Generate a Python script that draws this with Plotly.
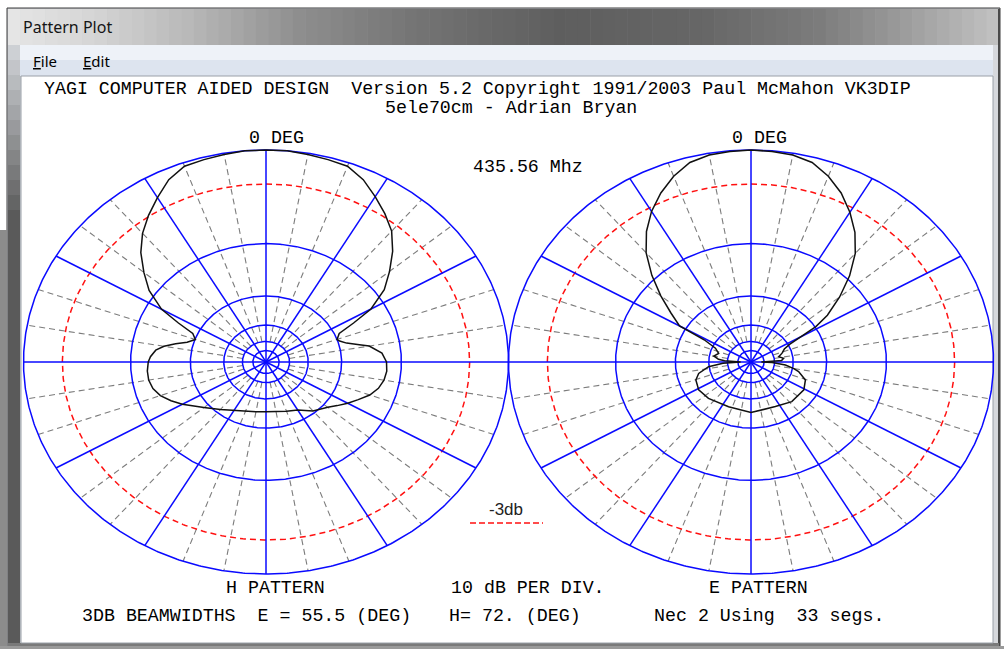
import numpy as np
import plotly.graph_objects as go

W, H = 1004, 649

# ---------------- data ----------------
# H-plane pattern (left plot): azimuth in degrees (clockwise from 0 DEG), relative gain in dB
h_angle = [0, 5, 10, 15, 20, 25, 30, 35, 40, 45, 50, 55, 60, 63, 66, 70, 72, 75, 78, 80, 85, 90,
           95, 100, 105, 110, 115, 120, 125, 130, 140, 150, 160, 170, 180,
           190, 200, 210, 220, 230, 235, 240, 245, 250, 255, 260, 265, 270, 273, 277, 280, 283,
           286, 290, 294, 297, 300, 305, 310, 315, 320, 325, 330, 335, 340, 345, 350, 355]
h_db = [0.0, 0.0, -0.1, -0.2, -0.3, -0.9, -1.8, -2.7, -3.7, -5.2, -7.0, -8.9, -11.9, -15.5, -19.0, -20.0, -19.6, -18.3, -16.0, -14.4, -12.6, -12.0,
        -11.9, -12.1, -12.6, -13.5, -14.9, -16.2, -17.6, -18.9, -20.6, -23.0, -24.0, -24.6, -24.9,
        -24.6, -24.0, -23.0, -21.1, -18.8, -17.5, -15.8, -14.4, -13.2, -12.5, -12.2, -12.2, -12.4, -12.7, -13.4, -14.6, -16.5,
        -18.6, -20.1, -19.0, -15.5, -12.0, -9.1, -7.2, -5.4, -4.0, -2.9, -1.9, -0.9, -0.3, -0.2, -0.1, 0.0]

# E-plane pattern (right plot)
e_angle = [0, 5, 10, 15, 20, 25, 30, 35, 40, 45, 50, 55, 58, 60.5, 62.5, 66, 72, 77.5, 82.7, 87, 90,
           91.5, 95.7, 100, 103, 110.7, 121, 138, 154.5, 180, 203.7, 225.6, 238.6, 249.5, 256,
           262.8, 267, 270, 273, 275.5, 280.5, 287, 294, 298.5, 300, 305, 310, 315, 320, 325,
           330, 335, 340, 345, 350, 355]
e_db = [0.0, -0.05, -0.15, -0.45, -1.2, -2.2, -3.5, -5.0, -6.9, -9.5, -12.7, -16.4, -19.8, -25.5, -29.5, -32.5, -34.4, -36.8, -34.3, -35.5, -54.0,
        -41.9, -33.4, -29.5, -27.5, -24.5, -23.5, -23.7, -25.0, -24.6, -25.2, -24.1, -23.6, -24.3, -25.8,
        -29.8, -37.0, -54.0, -38.0, -34.4, -31.9, -33.8, -31.4, -26.0, -18.5, -15.6, -12.4, -9.4, -6.8, -4.9,
        -3.4, -2.2, -1.2, -0.45, -0.15, -0.05]

ring_db = [0, -10, -20, -30, -40, -50]          # 10 dB per division
ref_db = -3                                       # -3 dB reference circle
major_spokes = list(range(0, 360, 30))
minor_spokes = [a for a in range(0, 360, 10) if a % 30 != 0]
minor_start_db = -40

header1 = "YAGI COMPUTER AIDED DESIGN  Version 5.2 Copyright 1991/2003 Paul McMahon VK3DIP"
header2 = "5ele70cm - Adrian Bryan"
zero_label = "0 DEG"
freq_label = "435.56 Mhz"
left_title = "H PATTERN"
right_title = "E PATTERN"
scale_label = "10 dB PER DIV."
bw_text = "3DB BEAMWIDTHS  E = 55.5 (DEG)"
bw_h_text = "H= 72. (DEG)"
nec_text = "Nec 2 Using  33 segs."
legend_text = "-3db"
window_title = "Pattern Plot"
menu_items = ["File", "Edit"]


# ---------------- helpers ----------------
def arrl(db):
    """ARRL log-periodic radial scale."""
    return 0.89 ** (-np.asarray(db, dtype=float) / 2.0)


def X(px):
    return px / W


def Y(py):
    return 1 - py / H


def pre(s):
    return s.replace("  ", " \u00a0")


fig = go.Figure()

PAD = 1.01
RX, RY = 242.5, 212.0
CY = 362.0
centers = [266.0, 751.0]
axes = [("x", "y"), ("x2", "y2")]
patterns = [(h_angle, h_db), (e_angle, e_db)]

full = np.radians(np.linspace(0, 360, 721))

for (cx, (xa, ya), (ang, db)) in zip(centers, axes, patterns):
    # minor grey spokes
    xs, ys = [], []
    r0 = float(arrl(minor_start_db))
    for a in minor_spokes:
        t = np.radians(a)
        xs += [r0 * np.sin(t), np.sin(t), None]
        ys += [r0 * np.cos(t), np.cos(t), None]
    fig.add_trace(go.Scatter(x=xs, y=ys, mode="lines", xaxis=xa, yaxis=ya,
                             line=dict(color="#7c7c7c", width=1.1, dash="6px,4px"),
                             hoverinfo="skip", showlegend=False))
    # -3 dB circle
    rr = float(arrl(ref_db))
    fig.add_trace(go.Scatter(x=rr * np.sin(full), y=rr * np.cos(full), mode="lines",
                             xaxis=xa, yaxis=ya,
                             line=dict(color="#ff1010", width=1.5, dash="6px,4px"),
                             hoverinfo="skip", showlegend=False))
    # blue rings
    xs, ys = [], []
    for d in ring_db:
        r = float(arrl(d))
        xs += list(r * np.sin(full)) + [None]
        ys += list(r * np.cos(full)) + [None]
    # blue spokes
    for a in major_spokes:
        t = np.radians(a)
        xs += [0, np.sin(t), None]
        ys += [0, np.cos(t), None]
    fig.add_trace(go.Scatter(x=xs, y=ys, mode="lines", xaxis=xa, yaxis=ya,
                             line=dict(color="#0a0aff", width=1.5),
                             hoverinfo="skip", showlegend=False))
    # antenna pattern
    t = np.radians(np.array(ang + [ang[0] + 360.0]))
    r = arrl(db + [db[0]])
    fig.add_trace(go.Scatter(x=r * np.sin(t), y=r * np.cos(t), mode="lines",
                             xaxis=xa, yaxis=ya,
                             line=dict(color="#111111", width=1.5),
                             hoverinfo="skip", showlegend=False))

ax_common = dict(visible=False, showgrid=False, zeroline=False, fixedrange=True,
                 range=[-PAD, PAD])
lay = {}
for i, cx in enumerate(centers):
    sx = "" if i == 0 else "2"
    lay["xaxis" + sx] = dict(ax_common, domain=[X(cx - RX * PAD), X(cx + RX * PAD)],
                             anchor="y" + sx)
    lay["yaxis" + sx] = dict(ax_common, domain=[Y(CY + RY * PAD), Y(CY - RY * PAD)],
                             anchor="x" + sx)

# ---------------- window chrome ----------------
shapes = []


def rect(x0, y0, x1, y1, fill, line=None, lw=0):
    shapes.append(dict(type="rect", xref="paper", yref="paper",
                       x0=X(x0), x1=X(x1), y0=Y(y1), y1=Y(y0), layer="below",
                       fillcolor=fill,
                       line=dict(color=line or fill, width=lw)))


def hexmix(c1, c2, f):
    a = [int(c1[i:i + 2], 16) for i in (1, 3, 5)]
    b = [int(c2[i:i + 2], 16) for i in (1, 3, 5)]
    return "#%02x%02x%02x" % tuple(int(round(a[k] + (b[k] - a[k]) * f)) for k in range(3))


rect(7, 8, 1000, 647, "#c4c7cc", "#3c3c3c", 1)
# title bar glass gradient
keys = [(8, "#e6e6e6"), (90, "#d6d6d6"), (190, "#b8b8b8"), (300, "#8e8e8e"), (420, "#737373"),
        (560, "#5e5e5e"), (700, "#666666"), (820, "#7c7c7c"), (920, "#a2a2a2"), (999, "#c2c2c2")]
n = 80
for k in range(n):
    x0 = 8 + (999 - 8) * k / n
    x1 = 8 + (999 - 8) * (k + 1) / n + 0.5
    xm = (x0 + x1) / 2
    for j in range(len(keys) - 1):
        if keys[j][0] <= xm <= keys[j + 1][0]:
            f = (xm - keys[j][0]) / (keys[j + 1][0] - keys[j][0])
            col = hexmix(keys[j][1], keys[j + 1][1], f)
    rect(x0, 9, x1, 45, col)
# left frame (dark lower part)
for k in range(12):
    y0 = 45 + k * 15
    rect(8, y0, 20, y0 + 15.5, hexmix("#cdd0d4", "#5a5a5a", k / 11))
rect(8, 225, 20, 646, "#5a5a5a")
rect(0, 230, 7, 649, "#8c8c8c")
rect(993, 45, 999, 646, "#d6d8dc")
rect(998, 9, 1000, 647, "#4a4a4a")
rect(8, 643, 999, 646, "#7a7a7a")
rect(0, 646, 1004, 649, "#9a9a9a")
# menu bar
rect(20, 45, 993, 60, "#eef2f8")
rect(20, 60, 993, 76, "#dde4ef")
# client area
rect(21, 76, 993, 643, "#ffffff", "#9aa0a8", 1)

# legend swatch for -3 dB line
shapes.append(dict(type="line", xref="paper", yref="paper",
                   x0=X(470), x1=X(543), y0=Y(523), y1=Y(523), layer="above",
                   line=dict(color="#ff1010", width=1.5, dash="6px,3px")))

# ---------------- text ----------------
mono = dict(family="Liberation Mono", size=18.3, color="#000000")
ann = []


def txt(s, x, y, font=mono, xanchor="center"):
    ann.append(dict(text=pre(s), x=X(x), y=Y(y), xref="paper", yref="paper",
                    showarrow=False, xanchor=xanchor, yanchor="middle", font=font))


txt(header1, 477.5, 89)
txt(header2, 511, 108)
txt(zero_label, 276, 137.5)
txt(zero_label, 759, 137.5)
txt(freq_label, 528, 167)
txt(left_title, 275.5, 587.5)
txt(scale_label, 528, 587.5)
txt(right_title, 758.5, 587.5)
txt(bw_text, 246, 616)
txt(bw_h_text, 515, 616)
txt(nec_text, 769, 616)
txt(legend_text, 506, 509, font=dict(family="Liberation Sans", size=17, color="#222222"))

ui = dict(family="Noto Sans", size=16, color="#151515")
txt(window_title, 21, 27, font=ui, xanchor="left")
menu_x = [31, 81]
for s, mx in zip(menu_items, menu_x):
    label = '<span style="text-decoration:underline">' + s[0] + "</span>" + s[1:]
    ann.append(dict(text=label, x=X(mx), y=Y(61), xref="paper", yref="paper",
                    showarrow=False, xanchor="left", yanchor="middle",
                    font=dict(family="Noto Sans", size=15, color="#000000")))

fig.update_layout(width=W, height=H, autosize=False,
                  margin=dict(l=0, r=0, t=0, b=0, pad=0),
                  paper_bgcolor="#ffffff", plot_bgcolor="rgba(0,0,0,0)",
                  showlegend=False, shapes=shapes, annotations=ann, **lay)

fig.write_html("out.html", config={"displayModeBar": False, "staticPlot": True},
               post_script="document.body.style.margin='0';document.body.style.overflow='hidden';")
